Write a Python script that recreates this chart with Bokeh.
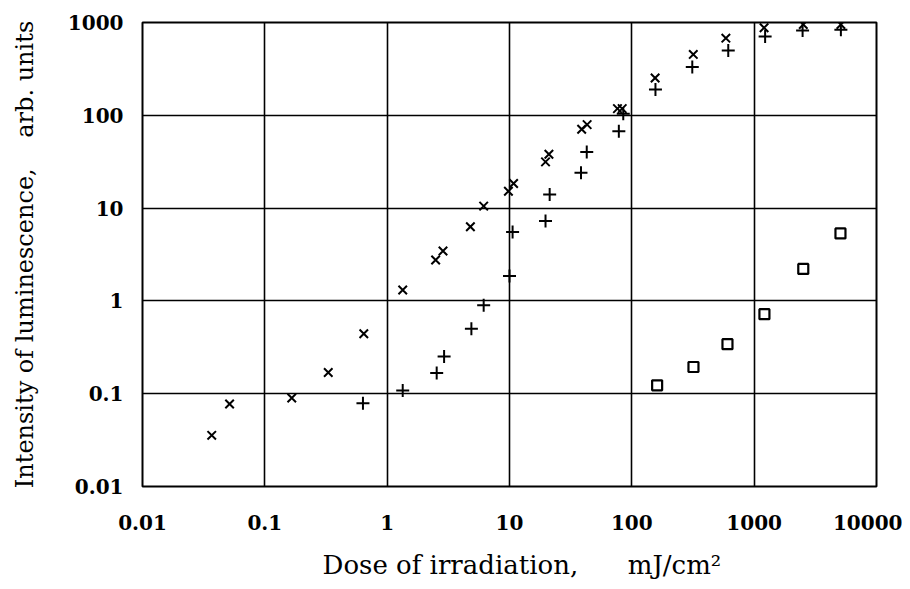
from bokeh.plotting import figure
from bokeh.models import FixedTicker
from bokeh.embed import file_html
from bokeh.resources import INLINE

# Data (dose in mJ/cm^2, intensity in arb. units)
dose_x = [0.0368, 0.0515, 0.166, 0.330, 0.644, 1.34, 2.49, 2.86, 4.79, 6.15, 9.8, 10.8,
          19.7, 21.0, 38.9, 43.1, 76.3, 83.4, 155, 318, 587, 1205, 2520, 5115]
int_x = [0.0356, 0.0775, 0.090, 0.169, 0.442, 1.31, 2.76, 3.45, 6.3, 10.5, 15.2, 18.4,
         31.5, 38.1, 70.7, 79.4, 118, 118, 252, 453, 678, 877, 950, 950]

dose_plus = [0.634, 1.34, 2.54, 2.92, 4.88, 6.15, 10.0, 10.6, 19.7, 21.3, 38.4, 42.8,
             78.3, 85.1, 156, 312, 614, 1229, 2488, 5115]
int_plus = [0.079, 0.108, 0.167, 0.252, 0.50, 0.90, 1.86, 5.52, 7.25, 14.0, 24.0, 40.3,
            67.3, 104, 190, 331, 500, 707, 820, 835]

dose_sq = [161, 319, 605, 1213, 2520, 5075]
int_sq = [0.123, 0.194, 0.342, 0.72, 2.21, 5.34]

x_ticks = [0.01, 0.1, 1, 10, 100, 1000, 10000]
x_tick_labels = ["0.01", "0.1", "1", "10", "100", "1000", "10000"]
y_ticks = [0.01, 0.1, 1, 10, 100, 1000]
y_tick_labels = ["0.01", "0.1", "1", "10", "100", "1000"]

NB = "\u00a0"

p = figure(width=902, height=586, x_axis_type="log", y_axis_type="log",
           x_range=(0.01, 10000), y_range=(0.01, 1000),
           output_backend="svg", toolbar_location=None,
           min_border_left=142, min_border_right=26, min_border_top=22, min_border_bottom=100)

p.background_fill_color = "white"
p.border_fill_color = "white"
p.outline_line_color = "black"
p.outline_line_width = 2

for ax, ticks, labels in ((p.xaxis[0], x_ticks, x_tick_labels), (p.yaxis[0], y_ticks, y_tick_labels)):
    ax.ticker = FixedTicker(ticks=ticks)
    ax.major_label_overrides = {t: l for t, l in zip(ticks, labels)}
    ax.axis_line_color = None
    ax.major_tick_line_color = None
    ax.minor_tick_line_color = None
    ax.major_tick_out = 0
    ax.major_tick_in = 0
    ax.major_label_text_font = "DejaVu Serif"
    ax.major_label_text_font_style = "bold"
    ax.major_label_text_font_size = "20px"
    ax.major_label_text_color = "black"
    ax.axis_label_text_font = "DejaVu Serif"
    ax.axis_label_text_font_style = "normal"
    ax.axis_label_text_color = "black"

p.xaxis.axis_label = NB * 3 + "Dose of irradiation," + NB * 6 + "mJ/cm\u00b2"
p.yaxis.axis_label = "Intensity of luminescence," + NB * 4 + "arb. units"
p.xaxis.axis_label_text_font_size = "26px"
p.yaxis.axis_label_text_font_size = "24px"
p.xaxis.major_label_standoff = 28
p.xaxis.axis_label_standoff = 17
p.yaxis.major_label_standoff = 19
p.yaxis.axis_label_standoff = 26

for g, ticks in ((p.xgrid[0], x_ticks), (p.ygrid[0], y_ticks)):
    g.ticker = FixedTicker(ticks=ticks)
    g.grid_line_color = "black"
    g.grid_line_width = 1.6
    g.minor_grid_line_color = None

p.scatter(dose_x, int_x, marker="x", size=12, line_color="black", line_width=2)
p.scatter(dose_plus, int_plus, marker="cross", size=13, line_color="black", line_width=2)
p.scatter(dose_sq, int_sq, marker="square", size=10, line_color="black", fill_color="white", line_width=2.2)

open("out.html", "w").write(file_html(p, INLINE))
